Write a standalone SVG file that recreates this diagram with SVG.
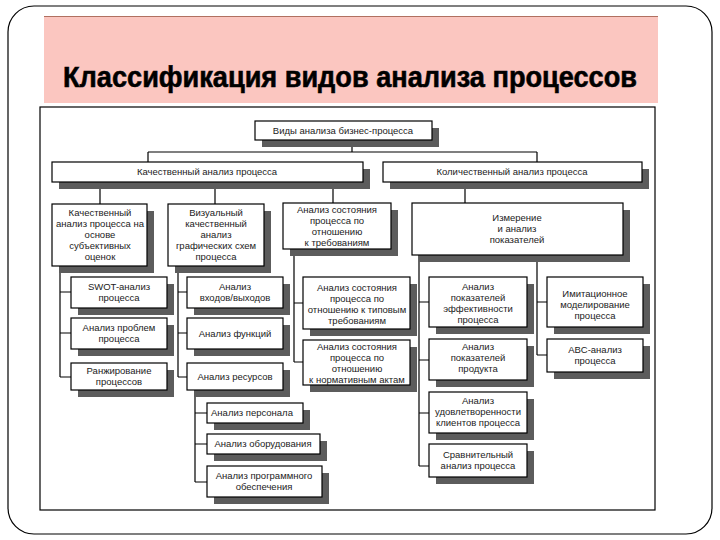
<svg xmlns="http://www.w3.org/2000/svg" width="720" height="540" viewBox="0 0 720 540">
<style>
.sh{fill:#5c5c5c}
.bx{fill:#fff;stroke:#000;stroke-width:1.2}
.t{font-family:"Liberation Sans",Arial,sans-serif;font-size:9.5px;fill:#222;text-anchor:middle}
.c{fill:none;stroke:#000;stroke-width:1.2}
</style>
<rect x="0" y="0" width="720" height="540" fill="#fff"/>
<rect x="8" y="6" width="704" height="528" rx="26" fill="#fff" stroke="#000" stroke-width="1.2"/>
<rect x="44" y="16" width="614" height="87" fill="#fbc6c0"/>
<line x1="44" y1="16.5" x2="658" y2="16.5" stroke="#b07060" stroke-width="1"/>
<text x="350" y="87" font-family="Liberation Sans,Arial,sans-serif" font-weight="bold" font-size="30" text-anchor="middle" textLength="574" lengthAdjust="spacingAndGlyphs" fill="#000" stroke="#000" stroke-width="0.6">Классификация видов анализа процессов</text>
<rect x="40" y="107" width="615" height="403" fill="#fff" stroke="#000" stroke-width="1.2"/>

<g id="connectors" class="c">
<path d="M352 140V152M148 152H537M148 152V162M537 152V162"/>
<path d="M100 182V204M215 182V204M333 182V203M465 182V203"/>
<path d="M60 266V377M60 292H71M60 333H71M60 377H71"/>
<path d="M178 266V377M178 292H187M178 333H187M178 377H187"/>
<path d="M195 390V482M195 413H207M195 444H207M195 482H207"/>
<path d="M294 249V362M294 303H303M294 362H303"/>
<path d="M419 255V466M419 302H429M419 360H429M419 413H429M419 466H429"/>
<path d="M537 255V355M537 302H547M537 355H547"/>
</g>

<g id="root"><rect class="sh" x="262" y="128" width="177" height="19"/><rect class="bx" x="255" y="121" width="177" height="19"/><text class="t" x="343" y="134">Виды анализа бизнес-процесса</text></g>
<g id="qual"><rect class="sh" x="59" y="169" width="311" height="20"/><rect class="bx" x="52" y="162" width="311" height="20"/><text class="t" x="207" y="175">Качественный анализ процесса</text></g>
<g id="quant"><rect class="sh" x="390" y="169" width="259" height="20"/><rect class="bx" x="383" y="162" width="259" height="20"/><text class="t" x="512" y="175">Количественный анализ процесса</text></g>

<g id="a1"><rect class="sh" x="59" y="211" width="95" height="62"/><rect class="bx" x="52" y="204" width="95" height="62"/><text class="t" x="100" y="216"><tspan x="100">Качественный</tspan><tspan x="100" dy="11">анализ процесса на</tspan><tspan x="100" dy="11">основе</tspan><tspan x="100" dy="11">субъективных</tspan><tspan x="100" dy="11">оценок</tspan></text></g>
<g id="a2"><rect class="sh" x="175" y="211" width="96" height="62"/><rect class="bx" x="168" y="204" width="96" height="62"/><text class="t" x="216" y="216"><tspan x="216">Визуальный</tspan><tspan x="216" dy="11">качественный</tspan><tspan x="216" dy="11">анализ</tspan><tspan x="216" dy="11">графических схем</tspan><tspan x="216" dy="11">процесса</tspan></text></g>
<g id="a3"><rect class="sh" x="290" y="210" width="108" height="46"/><rect class="bx" x="283" y="203" width="108" height="46"/><text class="t" x="337" y="213"><tspan x="337">Анализ состояния</tspan><tspan x="337" dy="11">процесса по</tspan><tspan x="337" dy="11">отношению</tspan><tspan x="337" dy="11">к требованиям</tspan></text></g>
<g id="b"><rect class="sh" x="419" y="210" width="211" height="52"/><rect class="bx" x="412" y="203" width="211" height="52"/><text class="t" x="517" y="221"><tspan x="517">Измерение</tspan><tspan x="517" dy="11">и анализ</tspan><tspan x="517" dy="11">показателей</tspan></text></g>

<g id="swot"><rect class="sh" x="78" y="284" width="96" height="31"/><rect class="bx" x="71" y="277" width="96" height="31"/><text class="t" x="119" y="290"><tspan x="119">SWOT-анализ</tspan><tspan x="119" dy="11">процесса</tspan></text></g>
<g id="probl"><rect class="sh" x="78" y="325" width="96" height="31"/><rect class="bx" x="71" y="318" width="96" height="31"/><text class="t" x="119" y="331"><tspan x="119">Анализ проблем</tspan><tspan x="119" dy="11">процесса</tspan></text></g>
<g id="rank"><rect class="sh" x="78" y="370" width="96" height="27"/><rect class="bx" x="71" y="363" width="96" height="27"/><text class="t" x="119" y="374"><tspan x="119">Ранжирование</tspan><tspan x="119" dy="11">процессов</tspan></text></g>

<g id="io"><rect class="sh" x="194" y="284" width="96" height="31"/><rect class="bx" x="187" y="277" width="96" height="31"/><text class="t" x="235" y="290"><tspan x="235">Анализ</tspan><tspan x="235" dy="11">входов/выходов</tspan></text></g>
<g id="func"><rect class="sh" x="194" y="325" width="96" height="31"/><rect class="bx" x="187" y="318" width="96" height="31"/><text class="t" x="235" y="337">Анализ функций</text></g>
<g id="res"><rect class="sh" x="194" y="370" width="96" height="27"/><rect class="bx" x="187" y="363" width="96" height="27"/><text class="t" x="235" y="380">Анализ ресурсов</text></g>

<g id="pers"><rect class="sh" x="214" y="410" width="96" height="20"/><rect class="bx" x="207" y="403" width="96" height="20"/><text class="t" x="252" y="416">Анализ персонала</text></g>
<g id="equip"><rect class="sh" x="214" y="441" width="113" height="20"/><rect class="bx" x="207" y="434" width="113" height="20"/><text class="t" x="263" y="447">Анализ оборудования</text></g>
<g id="soft"><rect class="sh" x="214" y="473" width="115" height="31"/><rect class="bx" x="207" y="466" width="115" height="31"/><text class="t" x="264" y="479"><tspan x="264">Анализ программного</tspan><tspan x="264" dy="11">обеспечения</tspan></text></g>

<g id="typ"><rect class="sh" x="310" y="284" width="107" height="52"/><rect class="bx" x="303" y="277" width="107" height="52"/><text class="t" x="357" y="291"><tspan x="357">Анализ состояния</tspan><tspan x="357" dy="11">процесса по</tspan><tspan x="357" dy="11">отношению к типовым</tspan><tspan x="357" dy="11">требованиям</tspan></text></g>
<g id="norm"><rect class="sh" x="310" y="347" width="107" height="45"/><rect class="bx" x="303" y="340" width="107" height="45"/><text class="t" x="357" y="350"><tspan x="357">Анализ состояния</tspan><tspan x="357" dy="11">процесса по</tspan><tspan x="357" dy="11">отношению</tspan><tspan x="357" dy="11">к нормативным актам</tspan></text></g>

<g id="eff"><rect class="sh" x="436" y="284" width="98" height="50"/><rect class="bx" x="429" y="277" width="98" height="50"/><text class="t" x="478" y="290"><tspan x="478">Анализ</tspan><tspan x="478" dy="11">показателей</tspan><tspan x="478" dy="11">эффективности</tspan><tspan x="478" dy="11">процесса</tspan></text></g>
<g id="prod"><rect class="sh" x="436" y="346" width="98" height="41"/><rect class="bx" x="429" y="339" width="98" height="41"/><text class="t" x="478" y="350"><tspan x="478">Анализ</tspan><tspan x="478" dy="11">показателей</tspan><tspan x="478" dy="11">продукта</tspan></text></g>
<g id="sat"><rect class="sh" x="436" y="399" width="98" height="41"/><rect class="bx" x="429" y="392" width="98" height="41"/><text class="t" x="478" y="404"><tspan x="478">Анализ</tspan><tspan x="478" dy="11">удовлетворенности</tspan><tspan x="478" dy="11">клиентов процесса</tspan></text></g>
<g id="cmp"><rect class="sh" x="436" y="451" width="98" height="33"/><rect class="bx" x="429" y="444" width="98" height="33"/><text class="t" x="478" y="458"><tspan x="478">Сравнительный</tspan><tspan x="478" dy="11">анализ процесса</tspan></text></g>

<g id="sim"><rect class="sh" x="554" y="284" width="96" height="50"/><rect class="bx" x="547" y="277" width="96" height="50"/><text class="t" x="595" y="297"><tspan x="595">Имитационное</tspan><tspan x="595" dy="11">моделирование</tspan><tspan x="595" dy="11">процесса</tspan></text></g>
<g id="abc"><rect class="sh" x="554" y="346" width="96" height="33"/><rect class="bx" x="547" y="339" width="96" height="33"/><text class="t" x="595" y="353"><tspan x="595">ABC-анализ</tspan><tspan x="595" dy="11">процесса</tspan></text></g>
</svg>
